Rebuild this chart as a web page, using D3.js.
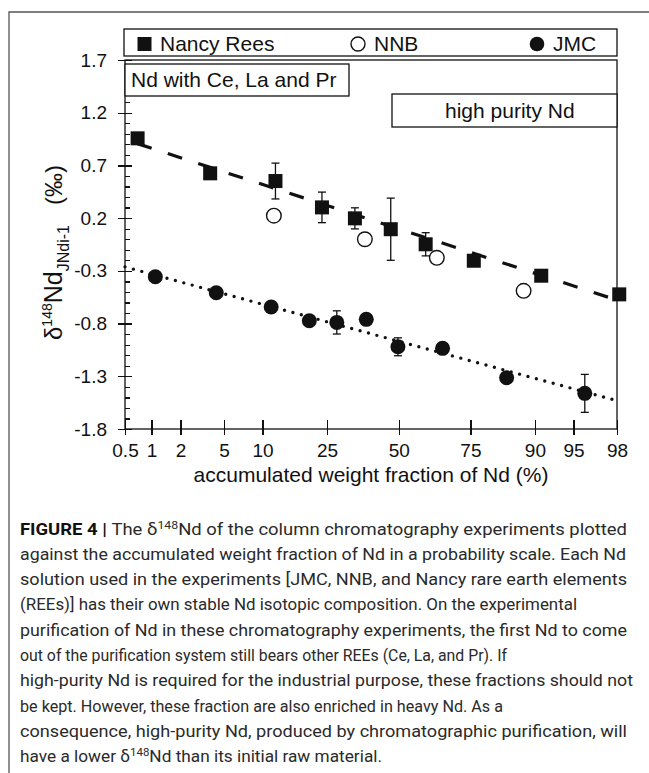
<!doctype html>
<html>

<head>
    <meta charset="utf-8">
    <title>Figure 4</title>
    <style type="text/css">
    body {
        margin: 0;
        background: #fff;
    }

    svg text {
        font-family: "Liberation Sans", Arial, sans-serif;
        fill: #111;
    }

    .axis path,
    .axis line {
        stroke: #111;
        stroke-width: 1.3;
        shape-rendering: crispEdges;
    }

    .axis .domain {
        visibility: hidden;
    }

    .axis text {
        font-size: 19px;
        fill: #111;
    }

    .caption text {
        font-family: "Roboto", "Liberation Sans", sans-serif;
        font-size: 16.5px;
        fill: #2a2a2a;
    }
    </style>
</head>

<body>
    <div class="graph-container"></div>
</body>
<script src="https://cdnjs.cloudflare.com/ajax/libs/d3/7.8.5/d3.min.js"></script>
<script type="text/javascript">

// Data (x in %, y in permil)

var nancyX = [0.7, 3.8, 12.3, 23.5, 34, 47, 60, 76, 91, 98.1];
var nancyY = [0.957, 0.625, 0.552, 0.302, 0.198, 0.095, -0.048, -0.204, -0.346, -0.523];
var nancyErr = [0, 0, 0.17, 0.145, 0.1, 0.295, 0.11, 0, 0, 0];

var nnbX = [12, 37.5, 64, 88];
var nnbY = [0.223, 0.0, -0.176, -0.489];

var jmcX = [1.1, 4.3, 11.5, 20, 28, 38, 49.7, 66, 84.5, 96];
var jmcY = [-0.356, -0.508, -0.643, -0.773, -0.789, -0.76, -1.02, -1.035, -1.314, -1.462];
var jmcErr = [0, 0, 0, 0, 0.11, 0, 0.085, 0, 0, 0.18];

// Fitted lines (end points)
var nancyFitX = [0.5, 98];
var nancyFitY = [0.945, -0.577];
var jmcFitX = [0.5, 98];
var jmcFitY = [-0.262, -1.531];

var xTicks = [0.5, 1, 2, 5, 10, 25, 50, 75, 90, 95, 98];
var xTickLabels = ["0.5", "1", "2", "5", "10", "25", "50", "75", "90", "95", "98"];
var yTicks = [1.7, 1.2, 0.7, 0.2, -0.3, -0.8, -1.3, -1.8];
var yTickLabels = ["1.7", "1.2", "0.7", "0.2", "-0.3", "-0.8", "-1.3", "-1.8"];
var yMinor = d3.range(-17, 17).map(function(d) { return d / 10; });

var legendNames = ["Nancy Rees", "NNB", "JMC"];

var captionLines = [
    "against the accumulated weight fraction of Nd in a probability scale. Each Nd",
    "solution used in the experiments [JMC, NNB, and Nancy rare earth elements",
    "(REEs)] has their own stable Nd isotopic composition. On the experimental",
    "purification of Nd in these chromatography experiments, the first Nd to come",
    "out of the purification system still bears other REEs (Ce, La, and Pr). If",
    "high-purity Nd is required for the industrial purpose, these fractions should not",
    "be kept. However, these fraction are also enriched in heavy Nd. As a",
    "consequence, high-purity Nd, produced by chromatographic purification, will"
];
var captionWidths = [606, 607, 557, 607, 487, 613, 483, 607];

// Inverse of the normal CDF (Acklam)
function probit(p) {
    var a = [-3.969683028665376e+01, 2.209460984245205e+02, -2.759285104469687e+02, 1.383577518672690e+02, -3.066479806614716e+01, 2.506628277459239e+00];
    var b = [-5.447609879822406e+01, 1.615858368580409e+02, -1.556989798598866e+02, 6.680131188771972e+01, -1.328068155288572e+01];
    var c = [-7.784894002430293e-03, -3.223964580411365e-01, -2.400758277161838e+00, -2.549732539343734e+00, 4.374664141464968e+00, 2.938163982698783e+00];
    var d = [7.784695709041462e-03, 3.224671290700398e-01, 2.445134137142996e+00, 3.754408661907416e+00];
    var plow = 0.02425, q, r;
    if (p < plow) {
        q = Math.sqrt(-2 * Math.log(p));
        return (((((c[0] * q + c[1]) * q + c[2]) * q + c[3]) * q + c[4]) * q + c[5]) / ((((d[0] * q + d[1]) * q + d[2]) * q + d[3]) * q + 1);
    }
    if (p > 1 - plow) {
        q = Math.sqrt(-2 * Math.log(1 - p));
        return -(((((c[0] * q + c[1]) * q + c[2]) * q + c[3]) * q + c[4]) * q + c[5]) / ((((d[0] * q + d[1]) * q + d[2]) * q + d[3]) * q + 1);
    }
    q = p - 0.5;
    r = q * q;
    return (((((a[0] * r + a[1]) * r + a[2]) * r + a[3]) * r + a[4]) * r + a[5]) * q / (((((b[0] * r + b[1]) * r + b[2]) * r + b[3]) * r + b[4]) * r + 1);
}

var W = 649, H = 773;
var plot = { left: 125, right: 617, top: 60, bottom: 429 };

var svg = d3.select(".graph-container").append("svg")
    .attr("width", W)
    .attr("height", H);

// Set the ranges (probability scale on x)
var z = d3.scaleLinear()
    .domain([probit(xTicks[0] / 100), probit(xTicks[xTicks.length - 1] / 100)])
    .range([plot.left, plot.right]);
function x(p) { return z(probit(p / 100)); }

var y = d3.scaleLinear()
    .domain([yTicks[yTicks.length - 1], yTicks[0]])
    .range([plot.bottom, plot.top]);

// Outer figure border
svg.append("path")
    .attr("d", "M" + W + ",12H9V" + H)
    .attr("fill", "none")
    .attr("stroke", "#555")
    .attr("stroke-width", 1.3);

// Add the X Axis (ticks cross the axis)
svg.append("g")
    .attr("class", "x axis")
    .attr("transform", "translate(0," + plot.bottom + ")")
    .call(d3.axisBottom(z)
        .tickValues(xTicks.map(function(p) { return probit(p / 100); }))
        .tickFormat(function(d, i) { return xTickLabels[i]; })
        .tickSize(6)
        .tickPadding(8.5));

svg.append("g")
    .attr("class", "axis")
    .attr("transform", "translate(0," + plot.bottom + ")")
    .call(d3.axisTop(z)
        .tickValues(xTicks.map(function(p) { return probit(p / 100); }))
        .tickFormat("")
        .tickSize(9));

// Add the Y Axis
svg.append("g")
    .attr("class", "y axis")
    .attr("transform", "translate(" + plot.left + ",0)")
    .call(d3.axisLeft(y)
        .tickValues(yTicks)
        .tickFormat(function(d, i) { return yTickLabels[i]; })
        .tickSize(7)
        .tickPadding(11));

svg.append("g")
    .attr("class", "axis")
    .attr("transform", "translate(" + plot.left + ",0)")
    .call(d3.axisRight(y)
        .tickValues(yTicks)
        .tickFormat("")
        .tickSize(7));

// Minor ticks every 0.1
svg.append("g")
    .attr("class", "axis")
    .attr("transform", "translate(" + plot.left + ",0)")
    .call(d3.axisRight(y)
        .tickValues(yMinor.filter(function(v) {
            return yTicks.every(function(t) { return Math.abs(t - v) > 1e-6; });
        }))
        .tickFormat("")
        .tickSize(5));

// Plot frame
svg.append("rect")
    .attr("x", plot.left)
    .attr("y", plot.top)
    .attr("width", plot.right - plot.left)
    .attr("height", plot.bottom - plot.top)
    .attr("fill", "none")
    .attr("stroke", "#111")
    .attr("stroke-width", 1.3);

// Axis labels
svg.append("text")
    .attr("x", (plot.left + plot.right) / 2)
    .attr("y", 482)
    .style("text-anchor", "middle")
    .style("font-size", "21px")
    .text("accumulated weight fraction of Nd (%)");

var ylab = svg.append("text")
    .attr("transform", "translate(62,340) rotate(-90)")
    .style("text-anchor", "start");
ylab.append("tspan").style("font-size", "24px").text("δ");
ylab.append("tspan").style("font-size", "14px").attr("dy", -10).text("148");
ylab.append("tspan").style("font-size", "25px").attr("dy", 10).text("Nd");
ylab.append("tspan").style("font-size", "16px").attr("dy", 7).text("JNdi-1");
ylab.append("tspan").style("font-size", "24px").attr("dy", -7).attr("dx", 20).text("(‰)");

// Fitted lines
var line = d3.line()
    .x(function(d) { return x(d[0]); })
    .y(function(d) { return y(d[1]); });

svg.append("path")
    .datum(d3.zip(nancyFitX, nancyFitY))
    .attr("d", line)
    .attr("fill", "none")
    .attr("stroke", "#111")
    .attr("stroke-width", 3.2)
    .attr("stroke-dasharray", "15,17")
    .attr("stroke-dashoffset", -13);

svg.append("path")
    .datum(d3.zip(jmcFitX, jmcFitY))
    .attr("d", line)
    .attr("fill", "none")
    .attr("stroke", "#111")
    .attr("stroke-width", 3.4)
    .attr("stroke-linecap", "round")
    .attr("stroke-dasharray", "0,8.7");

// Error bars
function errorBars(xs, ys, es) {
    var g = svg.append("g")
        .attr("stroke", "#111")
        .attr("stroke-width", 1.3);
    xs.forEach(function(px, i) {
        if (!es[i]) return;
        var cx = x(px), y0 = y(ys[i] + es[i]), y1 = y(ys[i] - es[i]);
        g.append("line").attr("x1", cx).attr("x2", cx).attr("y1", y0).attr("y2", y1);
        g.append("line").attr("x1", cx - 4).attr("x2", cx + 4).attr("y1", y0).attr("y2", y0);
        g.append("line").attr("x1", cx - 4).attr("x2", cx + 4).attr("y1", y1).attr("y2", y1);
    });
}
errorBars(nancyX, nancyY, nancyErr);
errorBars(jmcX, jmcY, jmcErr);

// NNB open circles
svg.selectAll("circle.nnb")
    .data(d3.zip(nnbX, nnbY))
    .enter().append("circle")
    .attr("class", "nnb")
    .attr("r", 7.3)
    .attr("cx", function(d) { return x(d[0]); })
    .attr("cy", function(d) { return y(d[1]); })
    .attr("fill", "#fff")
    .attr("stroke", "#111")
    .attr("stroke-width", 1.4);

// Nancy Rees squares
svg.selectAll("rect.nancy")
    .data(d3.zip(nancyX, nancyY))
    .enter().append("rect")
    .attr("class", "nancy")
    .attr("x", function(d) { return x(d[0]) - 7; })
    .attr("y", function(d) { return y(d[1]) - 7; })
    .attr("width", 14)
    .attr("height", 14)
    .attr("fill", "#111");

// JMC filled circles
svg.selectAll("circle.jmc")
    .data(d3.zip(jmcX, jmcY))
    .enter().append("circle")
    .attr("class", "jmc")
    .attr("r", 7.5)
    .attr("cx", function(d) { return x(d[0]); })
    .attr("cy", function(d) { return y(d[1]); })
    .attr("fill", "#111");

// Legend box
svg.append("rect")
    .attr("x", 124).attr("y", 29)
    .attr("width", plot.right - 124).attr("height", 27)
    .attr("fill", "#fff").attr("stroke", "#111").attr("stroke-width", 1.3);

svg.append("rect")
    .attr("x", 137.5).attr("y", 37).attr("width", 14).attr("height", 14)
    .attr("fill", "#111");
svg.append("circle")
    .attr("cx", 358).attr("cy", 44).attr("r", 7)
    .attr("fill", "#fff").attr("stroke", "#111").attr("stroke-width", 1.4);
svg.append("circle")
    .attr("cx", 537).attr("cy", 44).attr("r", 7.3)
    .attr("fill", "#111");

svg.selectAll("text.legend")
    .data(legendNames)
    .enter().append("text")
    .attr("class", "legend")
    .attr("x", function(d, i) { return [160, 374, 553][i]; })
    .attr("y", 51)
    .style("font-size", "21px")
    .text(function(d) { return d; });

// Annotation boxes
svg.append("rect")
    .attr("x", plot.left).attr("y", 64)
    .attr("width", 224).attr("height", 32)
    .attr("fill", "#fff").attr("stroke", "#111").attr("stroke-width", 1.3);
svg.append("text")
    .attr("x", 131).attr("y", 87)
    .style("font-size", "21px")
    .text("Nd with Ce, La and Pr");

svg.append("rect")
    .attr("x", 392).attr("y", 94)
    .attr("width", plot.right - 392).attr("height", 33)
    .attr("fill", "#fff").attr("stroke", "#111").attr("stroke-width", 1.3);
svg.append("text")
    .attr("x", 445).attr("y", 118)
    .style("font-size", "21px")
    .text("high purity Nd");

// Caption
var cap = svg.append("g").attr("class", "caption");
var lineH = 25.33, cap0 = 534.5, capX = 20;

var first = cap.append("text")
    .attr("x", capX).attr("y", cap0)
    .attr("textLength", 607)
    .attr("lengthAdjust", "spacingAndGlyphs");
first.append("tspan").style("font-weight", "bold").style("fill", "#111").text("FIGURE 4 | ");
first.append("tspan").text("The δ");
first.append("tspan").attr("dy", -6).style("font-size", "11px").text("148");
first.append("tspan").attr("dy", 6).text("Nd of the column chromatography experiments plotted");

captionLines.forEach(function(s, i) {
    cap.append("text")
        .attr("x", capX).attr("y", cap0 + (i + 1) * lineH)
        .attr("textLength", captionWidths[i])
        .attr("lengthAdjust", "spacingAndGlyphs")
        .text(s);
});

var last = cap.append("text")
    .attr("x", capX).attr("y", cap0 + 9 * lineH)
    .attr("textLength", 362)
    .attr("lengthAdjust", "spacingAndGlyphs");
last.append("tspan").text("have a lower δ");
last.append("tspan").attr("dy", -6).style("font-size", "11px").text("148");
last.append("tspan").attr("dy", 6).text("Nd than its initial raw material.");

</script>

</html>
